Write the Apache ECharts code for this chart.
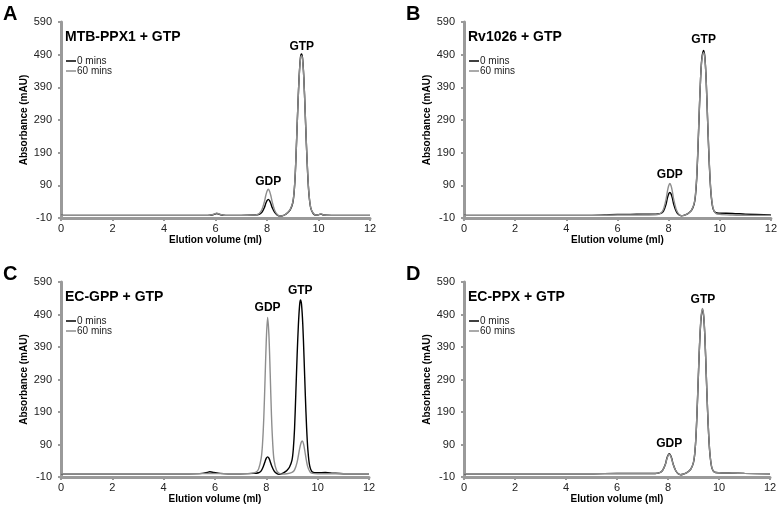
<!DOCTYPE html>
<html>
<head>
<meta charset="utf-8">
<script src="https://cdn.jsdelivr.net/npm/echarts@6/dist/echarts.min.js"></script>
<style>html,body{margin:0;padding:0;background:#fff}#c{width:780px;height:508px}</style>
</head>
<body>
<div id="c"></div>
<script>
// ---- data ----
var xTicks = [0, 2, 4, 6, 8, 10, 12];
var yTicks = [-10, 90, 190, 290, 390, 490, 590];
var panelLetters = ['A', 'B', 'C', 'D'];
var panelTitles = ['MTB-PPX1 + GTP', 'Rv1026 + GTP', 'EC-GPP + GTP', 'EC-PPX + GTP'];
var seriesNames = ['0 mins', '60 mins'];

var a0 = [[0,-2],[1,-2],[2,-2],[3,-2],[4,-2],[5,-2],[5.7,-2],[5.9,0],[6.05,4],[6.2,0],[6.4,-2],[7,-2],[7.5,-1],[7.7,1],[7.8,7],[7.9,22],[7.95,34],[8.0,43],[8.05,47],[8.1,43],[8.15,34],[8.2,22],[8.3,7],[8.4,-1],[8.5,-4],[8.6,-3],[8.7,0],[8.8,6],[8.9,15],[9.0,36],[9.05,66],[9.1,128],[9.15,228],[9.2,335],[9.25,425],[9.3,482],[9.34,492],[9.38,480],[9.43,420],[9.48,320],[9.53,215],[9.58,125],[9.63,62],[9.7,20],[9.8,3],[9.9,-1],[10.0,0],[10.1,2],[10.2,-1],[10.5,-2],[11,-2],[12,-2]];
var a60 = [[0,-2],[1,-2],[2,-2],[3,-2],[4,-2],[5,-2],[5.7,-2],[5.9,1],[6.05,5],[6.2,1],[6.4,-2],[7,-2],[7.5,-1],[7.6,0],[7.7,4],[7.8,15],[7.9,40],[7.95,58],[8.0,72],[8.05,78],[8.1,72],[8.15,58],[8.2,40],[8.3,13],[8.4,1],[8.5,-4],[8.6,-3],[8.7,0],[8.8,6],[8.9,16],[9.0,38],[9.05,68],[9.1,130],[9.15,230],[9.2,335],[9.25,422],[9.3,478],[9.34,487],[9.38,476],[9.43,418],[9.48,320],[9.53,217],[9.58,128],[9.63,64],[9.7,21],[9.8,4],[9.9,-1],[10.0,0],[10.1,3],[10.2,-1],[10.5,-2],[11,-2],[12,-2]];
var b0 = [[0,-2],[1,-2],[2,-2],[3,-2],[4,-2],[5,-2],[5.5,-1],[6,1],[6.5,1],[7,2],[7.5,2],[7.7,4],[7.8,11],[7.9,32],[7.95,50],[8.0,63],[8.05,68],[8.1,63],[8.15,50],[8.2,32],[8.3,10],[8.4,0],[8.5,-3],[8.6,-2],[8.7,1],[8.8,6],[8.9,14],[9.0,33],[9.05,58],[9.1,112],[9.15,205],[9.2,315],[9.25,415],[9.3,478],[9.37,503],[9.42,482],[9.47,412],[9.52,302],[9.57,195],[9.62,110],[9.67,55],[9.74,18],[9.85,6],[10,5],[10.5,4],[11,2],[12,-1]];
var b60 = [[0,-2],[1,-2],[2,-2],[3,-2],[4,-2],[5,-2],[6,-1],[7,-1],[7.5,0],[7.6,1],[7.7,5],[7.8,17],[7.9,47],[7.95,70],[8.0,88],[8.05,96],[8.1,88],[8.15,70],[8.2,47],[8.3,16],[8.4,2],[8.5,-3],[8.6,-2],[8.7,1],[8.8,6],[8.9,15],[9.0,35],[9.05,62],[9.1,118],[9.15,212],[9.2,320],[9.25,416],[9.3,474],[9.37,497],[9.42,478],[9.47,410],[9.52,304],[9.57,200],[9.62,115],[9.67,58],[9.74,20],[9.85,4],[10,1],[10.5,-1],[11,-2],[12,-2]];
var c0 = [[0,0],[1,0],[2,0],[3,0],[4,0],[5,0],[5.5,1],[5.7,4],[5.8,6],[5.95,4],[6.2,1],[6.5,0],[7,0],[7.5,1],[7.7,3],[7.8,9],[7.9,26],[7.95,38],[8.0,48],[8.05,52],[8.1,48],[8.15,38],[8.2,26],[8.3,9],[8.4,1],[8.5,-2],[8.6,0],[8.7,4],[8.8,10],[8.9,20],[9.0,42],[9.05,75],[9.1,140],[9.15,250],[9.2,365],[9.25,460],[9.3,522],[9.33,535],[9.37,522],[9.42,460],[9.47,355],[9.52,240],[9.57,140],[9.62,72],[9.69,24],[9.8,5],[10,3],[10.3,4],[10.6,2],[11,0],[12,0]];
var c60 = [[0,0],[1,0],[2,0],[3,0],[4,0],[5,0],[5.8,1],[6.5,0],[7,0],[7.4,1],[7.6,5],[7.7,15],[7.8,48],[7.85,90],[7.9,170],[7.95,290],[8.0,415],[8.05,481],[8.1,428],[8.15,310],[8.2,180],[8.25,92],[8.3,42],[8.4,10],[8.5,1],[8.6,-1],[8.8,0],[9.0,4],[9.1,12],[9.2,36],[9.3,78],[9.36,97],[9.4,101],[9.45,92],[9.5,70],[9.6,25],[9.7,6],[9.8,1],[10,0],[11,0],[12,0]];
var d0 = [[0,0],[1,0],[2,0],[3,0],[4,0],[5,0],[6,1],[7,1],[7.5,1],[7.7,4],[7.8,12],[7.9,30],[7.95,46],[8.0,57],[8.05,62],[8.1,57],[8.15,46],[8.2,30],[8.3,10],[8.4,0],[8.5,-3],[8.6,-1],[8.7,2],[8.8,7],[8.9,15],[9.0,35],[9.05,62],[9.1,118],[9.15,212],[9.2,320],[9.25,418],[9.3,480],[9.35,505],[9.4,484],[9.45,415],[9.5,305],[9.55,198],[9.6,112],[9.65,56],[9.72,18],[9.82,5],[10,3],[10.5,2],[11,1],[12,0]];
var d60 = [[0,0],[1,0],[2,0],[3,0],[4,0],[5,0],[6,1],[7,1],[7.5,1],[7.7,4],[7.8,12],[7.9,29],[7.95,44],[8.0,55],[8.05,60],[8.1,55],[8.15,44],[8.2,29],[8.3,10],[8.4,0],[8.5,-3],[8.6,-1],[8.7,2],[8.8,7],[8.9,15],[9.0,36],[9.05,64],[9.1,120],[9.15,215],[9.2,324],[9.25,422],[9.3,485],[9.35,509],[9.4,488],[9.45,418],[9.5,308],[9.55,200],[9.6,114],[9.65,57],[9.72,19],[9.82,5],[10,3],[10.5,2],[11,1],[12,0]];

var annA = [['GDP', 8.05, 100], ['GTP', 9.35, 514]];
var annB = [['GDP', 8.05, 122], ['GTP', 9.37, 535]];
var annC = [['GDP', 8.05, 510], ['GTP', 9.32, 564]];
var annD = [['GDP', 8.05, 92], ['GTP', 9.37, 535]];

// ---- layout / style ----
var FONT = '"Liberation Sans", Arial, Helvetica, sans-serif';
var AX = '#9a9a9a';
var BLACK = '#000000';
var GRAY = '#8e8e8e';
var panels = [
  {grid: {left: 61, top: 22, width: 309, height: 196}, d0: a0, d60: a60, ann: annA},
  {grid: {left: 464, top: 22, width: 307, height: 196}, d0: b0, d60: b60, ann: annB},
  {grid: {left: 61, top: 282, width: 308, height: 195}, d0: c0, d60: c60, ann: annC},
  {grid: {left: 464, top: 282, width: 306, height: 195}, d0: d0, d60: d60, ann: annD}
];

var grids = [], xAxes = [], yAxes = [], series = [], graphics = [];
panels.forEach(function (p, i) {
  grids.push(Object.assign({containLabel: false}, p.grid));
  xAxes.push({
    type: 'value', gridIndex: i,
    min: xTicks[0], max: xTicks[xTicks.length - 1], interval: xTicks[1] - xTicks[0],
    axisLine: {show: true, onZero: false, lineStyle: {color: AX, width: 3}},
    axisTick: {show: true, length: 3, lineStyle: {color: AX, width: 2}},
    splitLine: {show: false},
    axisLabel: {color: '#222', fontSize: 11, fontFamily: FONT, margin: 5},
    name: 'Elution volume (ml)', nameLocation: 'middle', nameGap: 11,
    nameTextStyle: {fontWeight: 'bold', fontSize: 10, color: '#000', fontFamily: FONT}
  });
  yAxes.push({
    type: 'value', gridIndex: i,
    min: yTicks[0], max: yTicks[yTicks.length - 1], interval: yTicks[1] - yTicks[0],
    axisLine: {show: true, onZero: false, lineStyle: {color: AX, width: 3}},
    axisTick: {show: true, length: 3, lineStyle: {color: AX, width: 2}},
    splitLine: {show: false},
    axisLabel: {color: '#222', fontSize: 11, fontFamily: FONT, margin: 9},
    name: 'Absorbance (mAU)', nameLocation: 'middle', nameGap: 25, nameRotate: 90,
    nameTextStyle: {fontWeight: 'bold', fontSize: 10, color: '#000', fontFamily: FONT}
  });
  series.push({
    name: seriesNames[0], type: 'line', xAxisIndex: i, yAxisIndex: i, data: p.d0,
    showSymbol: false, smooth: 0.3, lineStyle: {color: BLACK, width: 1.4}, itemStyle: {color: BLACK},
    silent: true, z: 2
  });
  series.push({
    name: seriesNames[1], type: 'line', xAxisIndex: i, yAxisIndex: i, data: p.d60,
    showSymbol: false, smooth: 0.3, lineStyle: {color: GRAY, width: 1.4}, itemStyle: {color: GRAY},
    silent: true, z: 3
  });
  series.push({
    type: 'scatter', xAxisIndex: i, yAxisIndex: i, symbolSize: 0, silent: true,
    data: p.ann.map(function (a) { return {name: a[0], value: [a[1], a[2]]}; }),
    itemStyle: {color: '#000', opacity: 1},
    label: {show: true, position: 'inside', formatter: '{b}', fontWeight: 'bold', fontSize: 12,
            color: '#000', opacity: 1, textBorderWidth: 0, textShadowBlur: 0, fontFamily: FONT},
    z: 5
  });

  var gx = p.grid.left, gy = p.grid.top;
  graphics.push({type: 'text', x: gx - 58, y: gy - 8, style: {text: panelLetters[i], font: 'bold 20px ' + FONT, fill: '#000', align: 'left', verticalAlign: 'middle'}});
  graphics.push({type: 'text', x: gx + 4, y: gy + 15, style: {text: panelTitles[i], font: 'bold 14px ' + FONT, fill: '#000', align: 'left', verticalAlign: 'middle'}});
  [BLACK, GRAY].forEach(function (col, k) {
    var ly = gy + 39 + k * 10;
    graphics.push({type: 'line', shape: {x1: gx + 5, y1: ly, x2: gx + 15, y2: ly}, style: {stroke: col, lineWidth: 1.5}});
    graphics.push({type: 'text', x: gx + 16, y: ly, style: {text: seriesNames[k], font: '10px ' + FONT, fill: '#222', align: 'left', verticalAlign: 'middle'}});
  });
});

var chart = echarts.init(document.getElementById('c'), null, {renderer: 'canvas', width: 780, height: 508});
chart.setOption({
  animation: false,
  backgroundColor: '#ffffff',
  grid: grids, xAxis: xAxes, yAxis: yAxes, series: series, graphic: graphics
});
</script>
</body>
</html>
